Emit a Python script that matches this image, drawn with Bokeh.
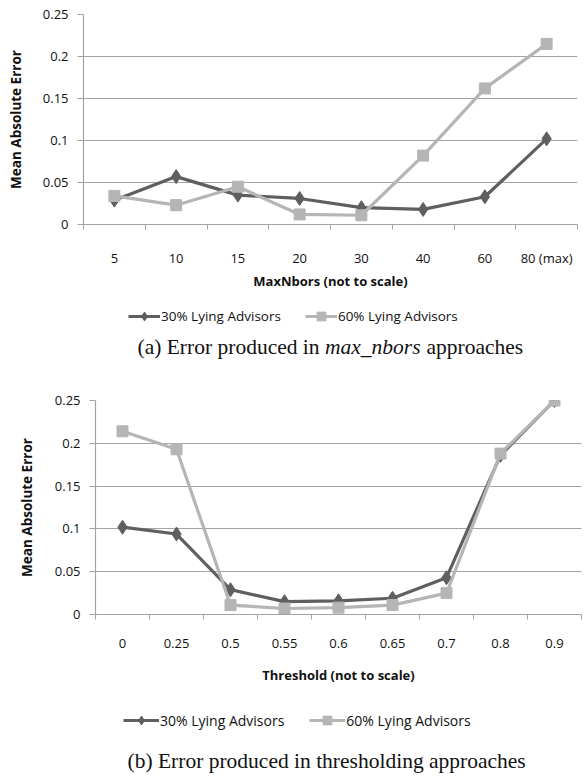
from bokeh.plotting import figure
from bokeh.layouts import column
from bokeh.models import (Range1d, FixedTicker, NumeralTickFormatter, Legend,
                          LegendItem)
from bokeh.core.properties import value
from bokeh.embed import file_html
from bokeh.resources import INLINE

# ---------------- data ----------------
cats_a = ["5", "10", "15", "20", "30", "40", "60", "80 (max)"]
lie30_a = [0.029, 0.057, 0.035, 0.031, 0.020, 0.018, 0.033, 0.102]
lie60_a = [0.034, 0.023, 0.045, 0.012, 0.011, 0.082, 0.162, 0.215]

cats_b = ["0", "0.25", "0.5", "0.55", "0.6", "0.65", "0.7", "0.8", "0.9"]
lie30_b = [0.102, 0.094, 0.029, 0.015, 0.016, 0.019, 0.043, 0.186, 0.250]
lie60_b = [0.214, 0.193, 0.011, 0.007, 0.008, 0.011, 0.025, 0.188, 0.250]

y_ticks = [0, 0.05, 0.1, 0.15, 0.2, 0.25]
series_names = ["30% Lying Advisors", "60% Lying Advisors"]
y_title = "Mean Absolute Error"
x_title_a = "MaxNbors (not to scale)"
x_title_b = "Threshold (not to scale)"
caption_a = [("(a) Error produced in", "normal"), ("max_nbors", "italic"),
             ("approaches", "normal")]
caption_b = [("(b) Error produced in thresholding approaches", "normal")]

FONT = "Open Sans"
SERIF = "Liberation Serif"
GRID = "#a3a3a3"
DARK = "#5f5f5f"
LIGHT = "#b5b5b5"
TXT = "#111111"
W = 584


def style_line(kind):
    if kind == 0:
        return dict(line_color=DARK, line_width=3.2), dict(
            marker="diamond", size=14, fill_color=DARK, line_color=DARK)
    return dict(line_color=LIGHT, line_width=3.2), dict(
        marker="square", size=11, fill_color=LIGHT, line_color=LIGHT)


def make_chart(cats, s30, s60, xtitle, frame_w, frame_h, left, right, top,
               bottom, xlab_standoff, xtitle_standoff, ytitle_standoff):
    n = len(cats)
    centers = [i + 0.5 for i in range(n)]
    p = figure(frame_width=frame_w, frame_height=frame_h,
               min_border_left=left, min_border_right=right,
               min_border_top=top, min_border_bottom=bottom,
               x_range=Range1d(0, n), y_range=Range1d(0, 0.25),
               output_backend="svg", toolbar_location=None,
               frame_align=False,
               background_fill_color="white", border_fill_color="white")
    p.outline_line_color = None

    xa = p.xaxis[0]
    xa.ticker = FixedTicker(ticks=centers, minor_ticks=list(range(n + 1)))
    xa.major_label_overrides = {c: lab for c, lab in zip(centers, cats)}
    xa.major_tick_line_color = None
    xa.major_tick_out = 0
    xa.major_tick_in = 0
    xa.minor_tick_line_color = GRID
    xa.minor_tick_out = 5
    xa.minor_tick_in = 0
    xa.axis_line_color = GRID
    xa.axis_line_width = 1.2
    xa.major_label_standoff = xlab_standoff
    xa.major_label_text_font = FONT
    xa.major_label_text_font_size = "13px"
    xa.major_label_text_color = TXT
    xa.axis_label = xtitle
    xa.axis_label_standoff = xtitle_standoff
    xa.axis_label_text_font = FONT
    xa.axis_label_text_font_style = "bold"
    xa.axis_label_text_font_size = "13px"
    xa.axis_label_text_color = TXT

    ya = p.yaxis[0]
    ya.ticker = FixedTicker(ticks=y_ticks, minor_ticks=[])
    ya.formatter = NumeralTickFormatter(format="0.[00]")
    ya.major_tick_line_color = GRID
    ya.major_tick_out = 6
    ya.major_tick_in = 0
    ya.minor_tick_line_color = None
    ya.axis_line_color = GRID
    ya.axis_line_width = 1.2
    ya.major_label_standoff = 9
    ya.major_label_text_font = FONT
    ya.major_label_text_font_size = "13px"
    ya.major_label_text_color = TXT
    ya.axis_label = y_title
    ya.axis_label_standoff = ytitle_standoff
    ya.axis_label_text_font = FONT
    ya.axis_label_text_font_style = "bold"
    ya.axis_label_text_font_size = "13.5px"
    ya.axis_label_text_color = TXT

    p.xgrid.visible = False
    p.ygrid.ticker = FixedTicker(ticks=y_ticks)
    p.ygrid.grid_line_color = GRID
    p.ygrid.grid_line_width = 1.2

    for k, s in enumerate([s30, s60]):
        ls, ms = style_line(k)
        p.line(centers, s, **ls)
        p.scatter(centers, s, **ms)
    return p


def make_footer(cats, s30, s60, height, legend_x, legend_cy, glyph_w,
                leg_font, leg_spacing, parts, cx, cy, widths, gap, cap_font):
    c = figure(width=W, height=height, x_range=Range1d(0, W),
               y_range=Range1d(height, 0), output_backend="svg",
               toolbar_location=None, min_border=0, frame_align=False,
               x_axis_location=None, y_axis_location=None,
               border_fill_color="white", background_fill_color="white")
    c.grid.visible = False
    c.outline_line_color = None
    centers = [i + 0.5 for i in range(len(cats))]
    items = []
    for k, (name, s) in enumerate(zip(series_names, [s30, s60])):
        ls, ms = style_line(k)
        # hidden copies of the series: they only supply the legend glyphs
        r1 = c.line(centers, s, visible=False, **ls)
        r2 = c.scatter(centers, s, visible=False, **ms)
        items.append(LegendItem(label=name, renderers=[r1, r2]))
    gh = 22
    legend = Legend(items=items, location=(legend_x, height - legend_cy - gh / 2),
                    orientation="horizontal", border_line_color=None,
                    background_fill_alpha=0, padding=0, margin=0,
                    spacing=leg_spacing, label_standoff=1,
                    glyph_width=glyph_w, glyph_height=gh,
                    label_text_font=FONT, label_text_font_size=leg_font,
                    label_text_color=TXT, inactive_fill_alpha=0)
    c.add_layout(legend)
    total = sum(widths) + gap * (len(widths) - 1)
    x = cx - total / 2
    for (txt, style), w in zip(parts, widths):
        c.text(x=[x], y=[cy], text=[txt], text_align="left",
               text_baseline="middle", text_font=value(SERIF),
               text_font_style=style, text_font_size=cap_font,
               text_color=TXT)
        x += w + gap
    return c


# ---- (a) ----
pa = make_chart(cats_a, lie30_a, lie60_a, x_title_a,
                frame_w=494, frame_h=210, left=83, right=7, top=14, bottom=72,
                xlab_standoff=19, xtitle_standoff=2, ytitle_standoff=15)
foot_a = make_footer(cats_a, lie30_a, lie60_a, 74, 128, 20, 32, "13.5px", 24,
                     caption_a, 330, 50, [182, 96, 97], 5.5, "21.5px")

# ---- (b) ----
pb = make_chart(cats_b, lie30_b, lie60_b, x_title_b,
                frame_w=486, frame_h=214, left=95, right=3, top=30, bottom=76,
                xlab_standoff=19, xtitle_standoff=15, ytitle_standoff=16)
foot_b = make_footer(cats_b, lie30_b, lie60_b, 86, 123, 30, 36, "14px", 25,
                     caption_b, 326, 70, [398], 0, "21.5px")

layout = column(pa, foot_a, pb, foot_b, spacing=0)
open("out.html", "w").write(file_html(layout, INLINE))
